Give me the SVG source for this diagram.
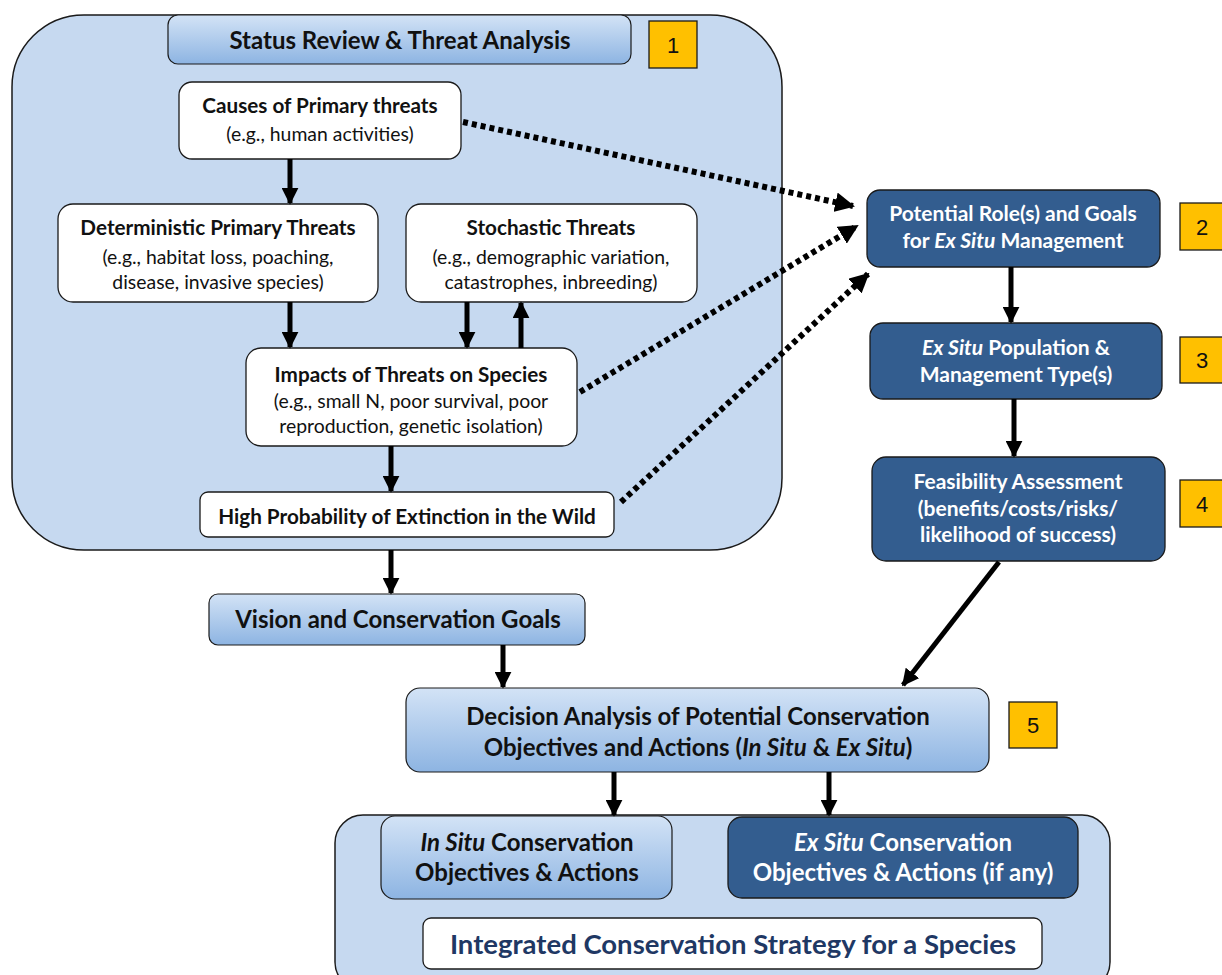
<svg xmlns="http://www.w3.org/2000/svg" width="1222" height="975" viewBox="0 0 1222 975">
<defs>
<linearGradient id="gb" x1="0" y1="0" x2="0" y2="1">
<stop offset="0" stop-color="#d3e3f6"/>
<stop offset="1" stop-color="#8db4e2"/>
</linearGradient>
<marker id="ah" viewBox="0 0 10 10" refX="9" refY="5" markerWidth="3.4" markerHeight="3.4" markerUnits="strokeWidth" orient="auto">
<path d="M0,0 L10,5 L0,10 Z" fill="#000"/>
</marker>
<marker id="ahd" viewBox="0 0 10 10" refX="9" refY="5" markerWidth="3.3" markerHeight="3.3" markerUnits="strokeWidth" orient="auto">
<path d="M0,0 L10,5 L0,10 Z" fill="#000"/>
</marker>
</defs>
<style>
text{font-family:Lato,"Liberation Sans",Arial,sans-serif;text-anchor:middle;}
.cont{fill:#c6d9f0;stroke:#1a1a1a;stroke-width:1.5;}
.grad{fill:url(#gb);stroke:#1a1a1a;stroke-width:1.2;}
.white{fill:#fff;stroke:#1a1a1a;stroke-width:1.3;}
.dark{fill:#335d8f;stroke:#1a1a1a;stroke-width:1.3;}
.badge{fill:#ffc000;stroke:#1a1a1a;stroke-width:1.3;}
.bn{font-family:"Liberation Sans",Arial,sans-serif;font-size:22px;fill:#111;}
.t{font-weight:bold;font-size:20.7px;fill:#111;}
.s{font-size:19.4px;fill:#111;}
.w{font-weight:bold;font-size:21px;fill:#fff;}
.h{font-weight:bold;font-size:24px;fill:#111;}
.arr{stroke:#000;stroke-width:5;fill:none;marker-end:url(#ah);}
.dot{stroke:#000;stroke-width:6;fill:none;stroke-dasharray:5 4;marker-end:url(#ahd);}
</style>

<g id="container1">
<rect class="cont" x="12" y="15" width="770" height="535" rx="72"/>
</g>
<g id="container2">
<rect class="cont" x="335" y="815" width="775" height="175" rx="28"/>
</g>

<g id="n-status">
<rect class="grad" x="168" y="15" width="463" height="49" rx="10"/>
<text class="h" x="400" y="49">Status Review &amp; Threat Analysis</text>
</g>
<g id="b1"><rect class="badge" x="649" y="21" width="48" height="47"/><text class="bn" x="673" y="53">1</text></g>

<g id="n-causes">
<rect class="white" x="179" y="82" width="282" height="77" rx="13"/>
<text class="t" x="320" y="113">Causes of Primary threats</text>
<text class="s" x="320" y="141">(e.g., human activities)</text>
</g>

<g id="n-determ">
<rect class="white" x="58" y="204" width="320" height="98" rx="15"/>
<text class="t" x="218" y="235">Deterministic Primary Threats</text>
<text class="s" x="218" y="264">(e.g., habitat loss, poaching,</text>
<text class="s" x="218" y="289">disease, invasive species)</text>
</g>

<g id="n-stoch">
<rect class="white" x="406" y="204" width="291" height="98" rx="15"/>
<text class="t" x="551" y="235">Stochastic Threats</text>
<text class="s" x="551" y="264">(e.g., demographic variation,</text>
<text class="s" x="551" y="289">catastrophes, inbreeding)</text>
</g>

<g id="n-impacts">
<rect class="white" x="246" y="348" width="331" height="98" rx="15"/>
<text class="t" x="411" y="382">Impacts of Threats on Species</text>
<text class="s" x="411" y="408">(e.g., small N, poor survival, poor</text>
<text class="s" x="411" y="433">reproduction, genetic isolation)</text>
</g>

<g id="n-high">
<rect class="white" x="200" y="492" width="414" height="45" rx="8"/>
<text class="t" x="407" y="524">High Probability of Extinction in the Wild</text>
</g>

<g id="n-vision">
<rect class="grad" x="209" y="594" width="376" height="51" rx="9"/>
<text class="h" x="398" y="628">Vision and Conservation Goals</text>
</g>

<g id="n-decision">
<rect class="grad" x="406" y="688" width="583" height="84" rx="14"/>
<text class="h" x="698" y="725">Decision Analysis of Potential Conservation</text>
<text class="h" x="698" y="756">Objectives and Actions (<tspan font-style="italic">In Situ</tspan> &amp; <tspan font-style="italic">Ex Situ</tspan>)</text>
</g>
<g id="b5"><rect class="badge" x="1009" y="702" width="48" height="46"/><text class="bn" x="1033" y="733">5</text></g>

<g id="n-insitu">
<rect class="grad" x="381" y="816" width="291" height="83" rx="14"/>
<text class="h" x="527" y="851"><tspan font-style="italic">In Situ</tspan> Conservation</text>
<text class="h" x="527" y="881">Objectives &amp; Actions</text>
</g>

<g id="n-exsitu">
<rect class="dark" x="728" y="817" width="350" height="81" rx="14"/>
<text class="h" x="903" y="851" style="fill:#fff"><tspan font-style="italic">Ex Situ</tspan> Conservation</text>
<text class="h" x="903" y="881" style="fill:#fff">Objectives &amp; Actions (if any)</text>
</g>

<g id="n-integrated">
<rect class="white" x="423" y="918" width="619" height="51" rx="8"/>
<text class="h" x="733" y="954" style="fill:#1f3864;font-size:27.5px">Integrated Conservation Strategy for a Species</text>
</g>

<g id="n-role">
<rect class="dark" x="867" y="190" width="293" height="77" rx="13"/>
<text class="w" x="1013" y="221">Potential Role(s) and Goals</text>
<text class="w" x="1013" y="248">for <tspan font-style="italic">Ex Situ</tspan> Management</text>
</g>
<g id="b2"><rect class="badge" x="1180" y="203" width="48" height="47"/><text class="bn" x="1202" y="235">2</text></g>

<g id="n-pop">
<rect class="dark" x="870" y="323" width="292" height="76" rx="13"/>
<text class="w" x="1016" y="355"><tspan font-style="italic">Ex Situ</tspan> Population &amp;</text>
<text class="w" x="1016" y="382">Management Type(s)</text>
</g>
<g id="b3"><rect class="badge" x="1180" y="337" width="48" height="46"/><text class="bn" x="1202" y="368">3</text></g>

<g id="n-feas">
<rect class="dark" x="872" y="457" width="293" height="104" rx="14"/>
<text class="w" x="1018" y="489">Feasibility Assessment</text>
<text class="w" x="1018" y="516">(benefits/costs/risks/</text>
<text class="w" x="1018" y="542">likelihood of success)</text>
</g>
<g id="b4"><rect class="badge" x="1180" y="480" width="48" height="47"/><text class="bn" x="1202" y="512">4</text></g>

<g id="connectors">
<line class="arr" x1="290" y1="159" x2="290" y2="203"/>
<line class="arr" x1="290" y1="302" x2="290" y2="347"/>
<line class="arr" x1="467" y1="302" x2="467" y2="347"/>
<line class="arr" x1="521" y1="348" x2="521" y2="303"/>
<line class="arr" x1="391" y1="446" x2="391" y2="491"/>
<line class="arr" x1="391" y1="550" x2="391" y2="593"/>
<line class="arr" x1="503" y1="645" x2="503" y2="687"/>
<line class="arr" x1="614" y1="772" x2="614" y2="815"/>
<line class="arr" x1="829" y1="772" x2="829" y2="815"/>
<line class="arr" x1="1011" y1="267" x2="1011" y2="322"/>
<line class="arr" x1="1014" y1="399" x2="1014" y2="456"/>
<line class="arr" x1="999" y1="562" x2="903" y2="685"/>
<line class="dot" x1="463" y1="122" x2="853" y2="206"/>
<line class="dot" x1="580" y1="392" x2="857" y2="226"/>
<line class="dot" x1="621" y1="502" x2="868" y2="274"/>
</g>
</svg>
